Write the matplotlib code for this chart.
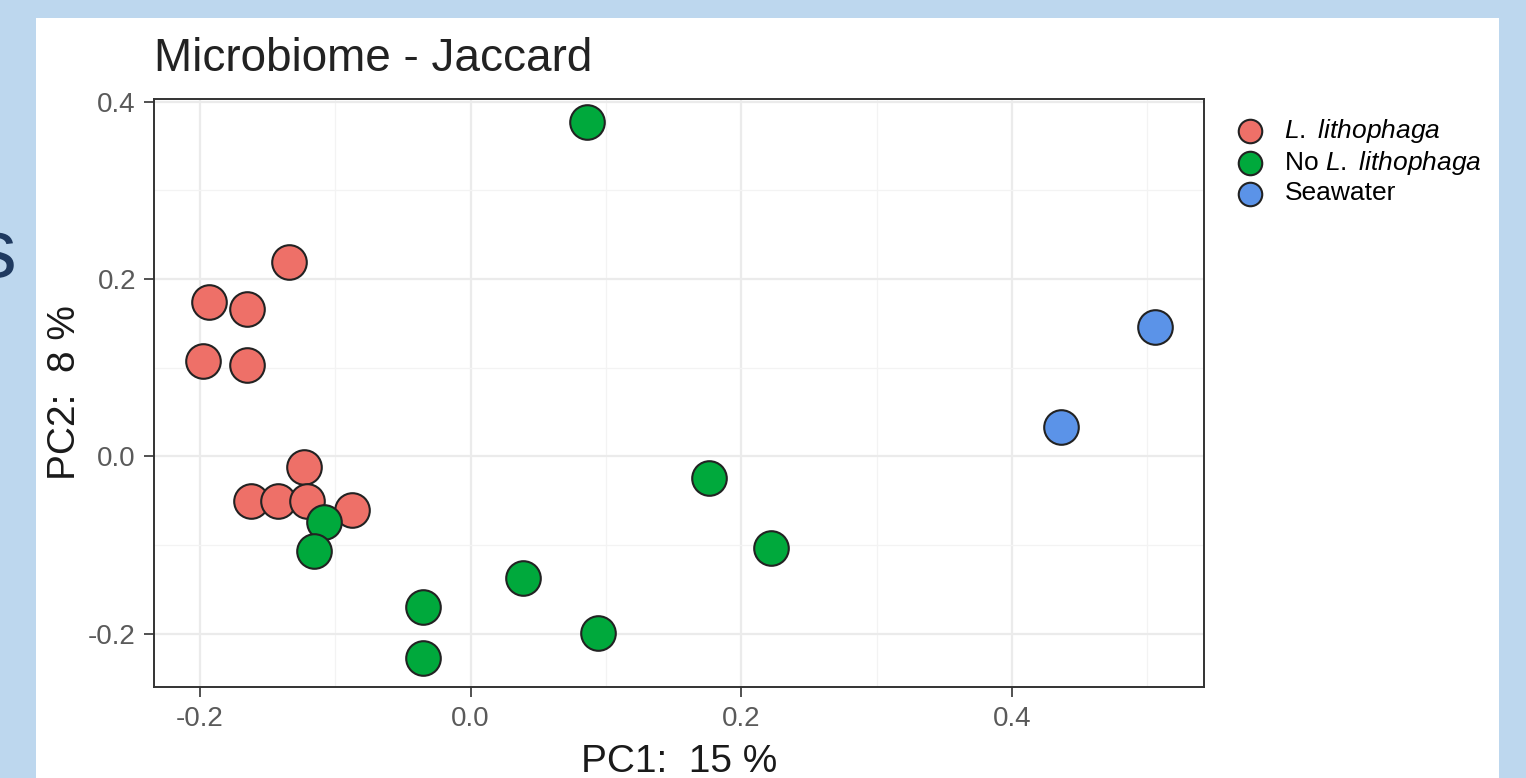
import matplotlib
matplotlib.use('Agg')
import matplotlib.pyplot as plt
from matplotlib.patches import Rectangle
from matplotlib.ticker import MultipleLocator

plt.rcParams['font.family'] = ['Liberation Sans', 'DejaVu Sans']
plt.rcParams['mathtext.fontset'] = 'custom'
plt.rcParams['mathtext.rm'] = 'Liberation Sans'
plt.rcParams['mathtext.it'] = 'Liberation Sans:italic'
plt.rcParams['axes.unicode_minus'] = False

# PCoA scores
lith_pc1 = [-0.134, -0.193, -0.165, -0.198, -0.165, -0.123, -0.162, -0.142, -0.121, -0.088]
lith_pc2 = [0.219, 0.174, 0.166, 0.108, 0.103, -0.012, -0.050, -0.050, -0.050, -0.060]

nolith_pc1 = [0.086, -0.108, -0.116, -0.035, -0.035, 0.039, 0.094, 0.176, 0.222]
nolith_pc2 = [0.377, -0.074, -0.107, -0.170, -0.227, -0.137, -0.199, -0.024, -0.103]

sea_pc1 = [0.506, 0.436]
sea_pc2 = [0.146, 0.033]

groups = ['$\\it{L.\\ lithophaga}$', 'No $\\it{L.\\ lithophaga}$', 'Seawater']
colors = ['#EE7068', '#00A93C', '#5B93E8']

W, H = 1526, 778
fig = plt.figure(figsize=(W / 100, H / 100), dpi=100)
fig.patch.set_facecolor('#BDD7EE')
fig.add_artist(Rectangle((36 / W, 0), (1499 - 36) / W, (H - 18) / H,
                         transform=fig.transFigure, facecolor='white',
                         edgecolor='none', zorder=-1))
# clipped letter from the slide text on the left
fig.text(16 / W, 1 - 277 / H, 's', fontsize=60, ha='right', va='baseline',
         color='#1F3A60')

ax = fig.add_axes([154 / W, 1 - 687 / H, (1204 - 154) / W, (687 - 99) / H])

series = [(lith_pc1, lith_pc2), (nolith_pc1, nolith_pc2), (sea_pc1, sea_pc2)]
for (xs, ys), lab, col in zip(series, groups, colors):
    ax.scatter(xs, ys, s=620, c=col, edgecolors='#222222', linewidths=1.5,
               label=lab, zorder=3)

ax.set_xlim(-0.234, 0.542)
ax.set_ylim(-0.26, 0.403)
ax.xaxis.set_major_locator(MultipleLocator(0.2))
ax.yaxis.set_major_locator(MultipleLocator(0.2))
ax.xaxis.set_minor_locator(MultipleLocator(0.1))
ax.yaxis.set_minor_locator(MultipleLocator(0.1))
ax.xaxis.set_major_formatter(plt.FormatStrFormatter('%.1f'))
ax.yaxis.set_major_formatter(plt.FormatStrFormatter('%.1f'))

ax.grid(which='major', color='#EBEBEB', linewidth=1.6, zorder=0)
ax.grid(which='minor', color='#F3F3F3', linewidth=0.9, zorder=0)
ax.set_axisbelow(True)
ax.tick_params(which='minor', length=0)
ax.tick_params(axis='both', which='major', length=7, width=1.2, color='#333333',
               labelsize=20, labelcolor='#5a5a5a')
ax.tick_params(axis='x', pad=7)
ax.tick_params(axis='y', pad=6)
for sp in ax.spines.values():
    sp.set_color('#333333')
    sp.set_linewidth(1.4)

ax.set_xlabel('PC1:  15 %', fontsize=28, color='#1a1a1a', labelpad=8)
ax.set_ylabel('PC2:  8 %', fontsize=28, color='#1a1a1a', labelpad=4)
ax.set_title('Microbiome - Jaccard', loc='left', fontsize=33, color='#222222', pad=20)

ax.legend(loc='upper left', bbox_to_anchor=(1237 / W, 1 - 117 / H),
          bbox_transform=fig.transFigure, frameon=False, fontsize=19,
          markerscale=0.68, scatterpoints=1, handlelength=1.0,
          handletextpad=0.8, labelspacing=0.16, borderpad=0, borderaxespad=0)

fig.savefig('out.png', dpi=100)
